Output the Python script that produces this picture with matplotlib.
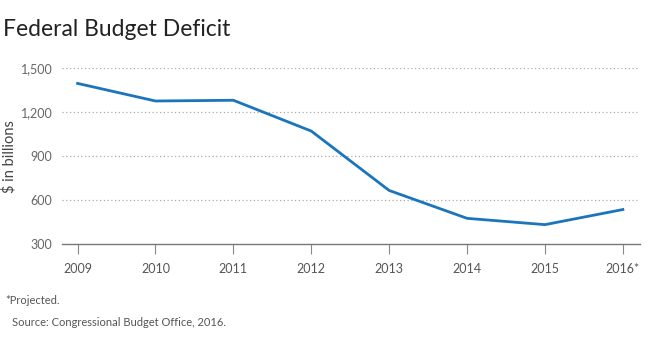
import matplotlib.pyplot as plt

years = [2009, 2010, 2011, 2012, 2013, 2014, 2015, 2016]
deficit = [1395, 1275, 1280, 1070, 665, 475, 432, 535]
xLabels = ["2009", "2010", "2011", "2012", "2013", "2014", "2015", "2016*"]
yTicks = [300, 600, 900, 1200, 1500]

plt.rcParams['font.family'] = ['Lato', 'DejaVu Sans']

figure = plt.figure(figsize=(6.58, 3.49), dpi=100)
ax = figure.add_axes([62 / 658, 1 - 244 / 349, (640 - 62) / 658, (244 - 68) / 349])

ax.plot(years, deficit, color='#1a75bc', linewidth=2, clip_on=False, zorder=3)

ax.set_xlim(2008.8, 2016.22)
ax.set_ylim(300, 1500)
ax.set_yticks(yTicks)
ax.set_yticklabels([f"{v:,}" for v in yTicks])
ax.set_xticks(years)
ax.set_xticklabels(xLabels)

# dotted grid, solid baseline
for v in yTicks[1:]:
    ax.axhline(v, color='#aaaaaa', linestyle=(0, (1, 2)), linewidth=0.9, zorder=1)
for side in ['top', 'right', 'left']:
    ax.spines[side].set_visible(False)
ax.spines['bottom'].set_color('#777777')
ax.spines['bottom'].set_linewidth(1)

ax.tick_params(axis='y', length=0, pad=7, labelsize=9, labelcolor='#666666')
ax.tick_params(axis='x', direction='out', length=7, width=0.8, color='#888888',
               pad=7, labelsize=9, labelcolor='#555555')

figure.text(9 / 658, 1 - 157 / 349, "\\$ in billions", fontsize=10.5, rotation=90,
            color='#444444', va='center', ha='center')

figure.text(3 / 658, 1 - 30 / 349, "Federal Budget Deficit", fontsize=16.5,
            color='#222222', va='center', ha='left')
figure.text(5 / 658, 1 - 300 / 349, "*Projected.", fontsize=8,
            color='#555555', va='center', ha='left')
figure.text(12 / 658, 1 - 322 / 349, "Source: Congressional Budget Office, 2016.",
            fontsize=8, color='#555555', va='center', ha='left')

figure.savefig("out.png", dpi=100)
